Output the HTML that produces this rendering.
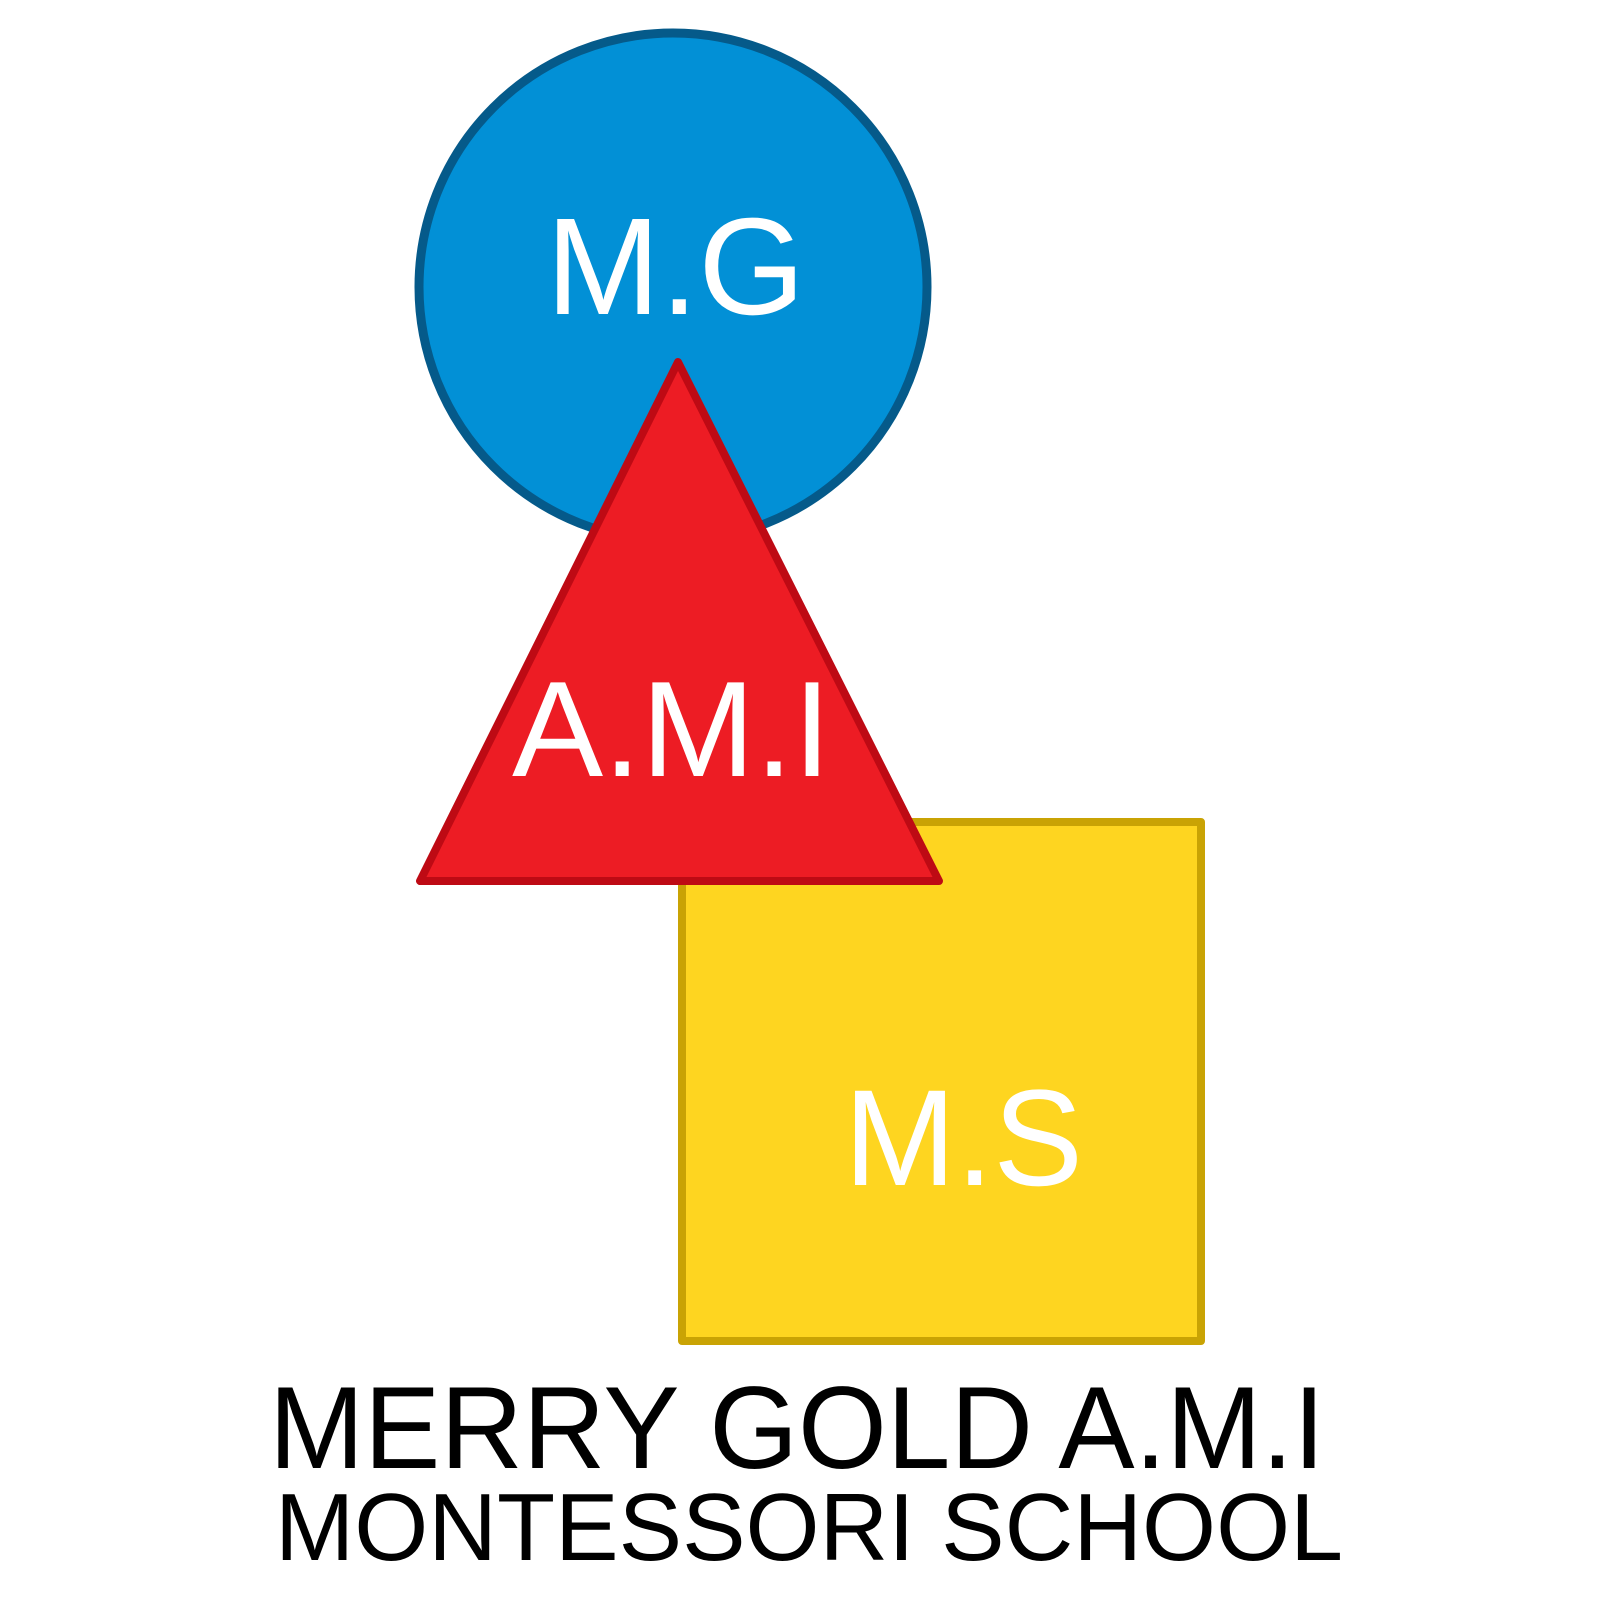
<!DOCTYPE html>
<html><head><style>html,body{margin:0;padding:0;background:#fff}</style></head>
<body>
<svg width="1600" height="1600" viewBox="0 0 1600 1600" xmlns="http://www.w3.org/2000/svg" font-family="Liberation Sans, Arial, sans-serif">
<rect x="682" y="822" width="519" height="519" fill="#fed520" stroke="#c9a304" stroke-width="8" stroke-linejoin="round"/>
<circle cx="673" cy="287" r="254" fill="#0290d6" stroke="#055a8a" stroke-width="9"/>
<polygon points="678,362 420,881 939,881" fill="#ed1c24" stroke="#be0a14" stroke-width="8" stroke-linejoin="round"/>
<text x="546" y="314" font-size="138" fill="#fff" textLength="259" lengthAdjust="spacingAndGlyphs">M.G</text>
<text x="512" y="776" font-size="136" fill="#fff" textLength="319" lengthAdjust="spacingAndGlyphs">A.M.I</text>
<text x="844" y="1185" font-size="137" fill="#fff" textLength="239" lengthAdjust="spacingAndGlyphs">M.S</text>
<text x="269" y="1468" font-size="117" fill="#000" textLength="1056" lengthAdjust="spacingAndGlyphs">MERRY GOLD A.M.I</text>
<text x="275" y="1560" font-size="96" fill="#000" textLength="1068" lengthAdjust="spacingAndGlyphs">MONTESSORI SCHOOL</text>
</svg>
</body></html>
